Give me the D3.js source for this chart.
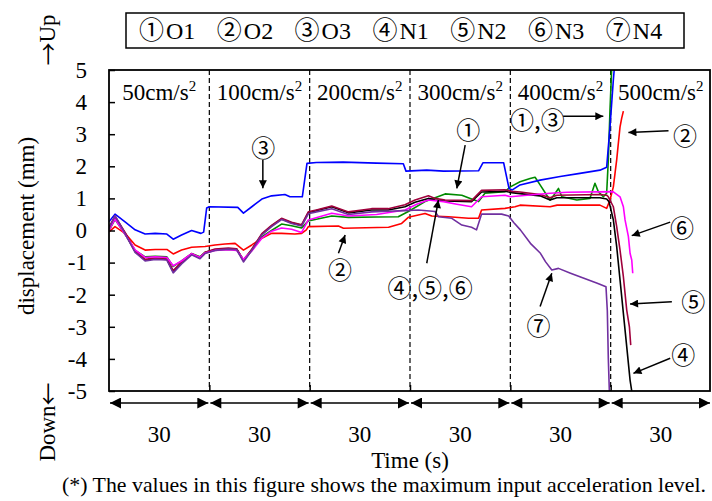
<!DOCTYPE html>
<html>
<head>
<meta charset="utf-8">
<script src="https://cdn.jsdelivr.net/npm/d3@7.9.0/dist/d3.min.js"></script>
<style>
  body { margin: 0; background: #fff; }
  svg text { font-family: "Liberation Serif", "Noto Sans CJK JP", serif; fill: #000; }
  svg .cjk { font-family: "Noto Sans CJK JP", sans-serif; }
</style>
</head>
<body>
<svg id="chart" width="712" height="501"></svg>
<script>
// stages (30 s each) and their max input acceleration
const stageLevels = ["50", "100", "200", "300", "400", "500"];
const stageDuration = [30, 30, 30, 30, 30, 30];
const yTicks = [-5, -4, -3, -2, -1, 0, 1, 2, 3, 4, 5];

const seriesNames = ["O1", "O2", "O3", "N1", "N2", "N3", "N4"];
const seriesMarks = ["①", "②", "③", "④", "⑤", "⑥", "⑦"];
const seriesColors = ["#008a00", "#ff0000", "#0000ff", "#000000", "#a0003c", "#ff00ff", "#7030a0"];

// [time (s), displacement (mm)]
const o1 = [[0,0.0],[1.8,0.35],[4.8,-0.12],[7.8,-0.62],[10.8,-0.82],[13.8,-0.8],[17.3,-0.82],[19.2,-1.12],[21.7,-0.95],[24.7,-0.72],[27.2,-0.82],[28.7,-0.68],[31.7,-0.6],[35.7,-0.58],[38.2,-0.6],[40.2,-0.92],[42.7,-0.62],[45.7,-0.2],[48.6,0.0],[51.6,0.2],[54.6,0.15],[57.6,0.08],[59.6,0.3],[62,0.35],[66.6,0.45],[71.6,0.41],[80,0.42],[86.5,0.43],[89.5,0.59],[94.5,0.9],[100.5,1.14],[105.5,1.1],[108,1.0],[110.5,0.9],[112.4,1.16],[118.4,1.21],[120,1.36],[122.9,1.52],[125.9,1.62],[127.4,1.66],[128.9,1.42],[130.9,1.1],[131.9,0.95],[133,1.1],[134.4,1.31],[135.4,1.05],[139.9,0.95],[143.8,1.0],[145.3,1.47],[146.3,1.21],[147.8,1.05],[148.8,1.16],[149.3,2.2],[149.8,3.75],[150.4,5.3]];
const o2 = [[0,-0.04],[1.8,0.12],[4.8,-0.09],[7.8,-0.45],[10.8,-0.61],[13.8,-0.59],[17.3,-0.59],[19.2,-0.73],[21.7,-0.61],[24.7,-0.52],[28.7,-0.5],[31.7,-0.45],[34.7,-0.42],[37.7,-0.4],[40.2,-0.61],[42.7,-0.45],[45.7,-0.24],[48.6,-0.09],[51.6,-0.09],[55.6,-0.11],[57.6,-0.09],[59,0.02],[59.6,0.12],[68.6,0.14],[70.1,0.07],[83.6,0.1],[87.5,0.22],[89.5,0.41],[94.5,0.53],[96.5,0.45],[101.5,0.43],[107.5,0.38],[110.5,0.38],[111.4,0.64],[118.4,0.69],[121.4,0.74],[122.9,0.79],[131.9,0.74],[134,0.79],[146.8,0.79],[148.8,0.69],[149.8,0.95],[150.8,1.36],[151.3,1.78],[151.8,2.2],[152.3,2.72],[152.8,3.23],[153.3,3.5],[153.8,3.72]];
const o3 = [[0,0.27],[1.8,0.51],[4.8,0.27],[7.8,0.02],[10.8,-0.11],[13.8,-0.09],[17.3,-0.11],[19.2,-0.27],[21.7,-0.14],[24.7,0.0],[27.5,-0.09],[28.3,-0.05],[29.2,0.7],[30,0.74],[38.5,0.72],[40.2,0.54],[42.7,0.74],[45.7,0.98],[48.6,1.08],[52.6,1.12],[54.1,1.05],[57.8,1.05],[59.2,2.09],[62,2.12],[70,2.13],[80,2.1],[88,2.08],[88.8,1.85],[95,1.88],[100,1.85],[110.5,1.86],[111.8,2.11],[118,2.11],[119.6,1.31],[120.5,1.26],[122.9,1.42],[128.9,1.57],[134.9,1.68],[140.8,1.78],[146.8,1.88],[148.8,1.97],[149.8,3.23],[150.8,4.69],[151.3,5.3]];
const n1 = [[0,0.08],[1.8,0.42],[4.8,-0.08],[7.8,-0.66],[10.8,-0.92],[13.8,-0.88],[17.3,-0.9],[19.2,-1.28],[21.7,-1.0],[24.7,-0.74],[27.2,-0.86],[28.7,-0.7],[31.7,-0.6],[35.7,-0.57],[38.2,-0.58],[40.2,-0.94],[42.7,-0.6],[45.7,-0.12],[48.6,0.14],[51.6,0.36],[54.6,0.24],[57.6,0.16],[59.6,0.56],[62,0.62],[66.6,0.74],[71.6,0.55],[78.5,0.64],[83.5,0.64],[88.5,0.74],[91.5,0.88],[95.5,1.0],[97.5,0.95],[100.5,0.92],[108.4,0.9],[111.4,1.2],[118.4,1.22],[120.4,1.18],[122.9,1.15],[128.9,1.08],[131.9,0.95],[133.9,1.02],[146.8,1.02],[148.8,0.98],[149.5,0.9],[150.8,0.33],[151.8,-0.5],[152.8,-1.54],[153.8,-2.58],[154.8,-3.62],[155.8,-4.66],[156.3,-5.0]];
const n2 = [[0,0.1],[1.8,0.45],[4.8,-0.06],[7.8,-0.64],[10.8,-0.9],[13.8,-0.86],[17.3,-0.88],[19.2,-1.25],[21.7,-0.98],[24.7,-0.72],[27.2,-0.84],[28.7,-0.68],[31.7,-0.58],[35.7,-0.55],[38.2,-0.57],[40.2,-0.92],[42.7,-0.58],[45.7,-0.1],[48.6,0.16],[51.6,0.38],[54.6,0.26],[57.6,0.18],[59.6,0.58],[62,0.64],[66.6,0.76],[71.6,0.58],[78.5,0.68],[83.5,0.68],[88.5,0.8],[91.5,0.95],[95.5,1.08],[97.5,1.0],[100.5,0.95],[108.4,0.93],[111.4,1.25],[118.4,1.27],[120.4,1.22],[122.9,1.2],[128.9,1.12],[131.9,1.02],[133.9,1.1],[146.8,1.12],[148.8,1.1],[149.3,1.05],[150.8,0.74],[151.8,0.12],[152.8,-0.61],[153.8,-1.44],[154.8,-2.48],[155.6,-3.0],[156.0,-3.57]];
const n3 = [[0,0.0],[1.8,0.36],[4.8,-0.12],[7.8,-0.6],[10.8,-0.84],[13.8,-0.82],[17.3,-0.84],[19.2,-1.1],[21.7,-0.95],[24.7,-0.72],[27.2,-0.84],[28.7,-0.7],[31.7,-0.62],[35.7,-0.6],[38.2,-0.62],[40.2,-0.9],[42.7,-0.64],[45.7,-0.24],[48.6,-0.02],[51.6,0.08],[54.6,0.04],[57.6,-0.06],[59.6,0.33],[66.6,0.54],[71.6,0.45],[80,0.5],[88.5,0.64],[92,0.82],[95.5,0.95],[100,0.9],[104,0.82],[108.4,0.74],[111.4,1.05],[118.4,1.1],[120,1.05],[125,1.1],[131.9,1.16],[137,1.19],[150.7,1.21],[152.8,1.05],[153.8,0.74],[154.3,0.33],[155.3,-0.19],[155.8,-0.71],[156.3,-0.92],[156.6,-1.33]];
const n4 = [[0,0.06],[1.8,0.46],[4.8,-0.1],[7.8,-0.68],[10.8,-0.95],[13.8,-0.9],[17.3,-0.92],[19.2,-1.32],[21.7,-1.04],[24.7,-0.76],[27.2,-0.88],[28.7,-0.72],[31.7,-0.62],[35.7,-0.58],[38.2,-0.6],[40.2,-0.98],[42.7,-0.62],[45.7,-0.14],[48.6,0.12],[51.6,0.34],[54.6,0.22],[57.6,0.14],[59.6,0.52],[62,0.58],[66.6,0.68],[71.6,0.5],[78.5,0.58],[83.5,0.6],[88.5,0.62],[92.5,0.64],[97.5,0.59],[98.5,0.43],[102.5,0.38],[105.5,0.17],[108.4,0.1],[109.9,0.02],[111.4,0.51],[117.4,0.51],[119.5,0.45],[121,0.25],[123,0.02],[126,-0.4],[129,-0.71],[130.5,-0.97],[132.4,-1.23],[134.4,-1.18],[138,-1.33],[142,-1.49],[146,-1.64],[148.6,-1.75],[149,-2.5],[149.3,-4.0],[149.7,-5.3]];

// callouts: label text, label position, arrow tail, arrow head (data units)
const callouts = [
  { text: "③", at: [46.1, 2.61], from: [46.0, 2.2], to: [46.0, 1.32] },
  { text: "②", at: [69.1, -1.17], from: [68.6, -0.71], to: [70.6, -0.14] },
  { text: "①", at: [107.4, 3.18], from: [106.5, 2.66], to: [104.0, 1.31] },
  { text: "④,⑤,⑥", at: [96.0, -1.76], from: [95.0, -1.02], to: [98.5, 0.95] },
  { text: "①,③", at: [128.1, 3.48], from: [135.8, 3.56], to: [147.8, 3.56] },
  { text: "②", at: [172.2, 2.98], from: [167.3, 3.11], to: [155.3, 3.05] },
  { text: "⑥", at: [171.3, 0.12], from: [167.8, 0.26], to: [156.3, -0.16] },
  { text: "⑤", at: [174.7, -2.19], from: [168.3, -2.22], to: [155.8, -2.29] },
  { text: "④", at: [171.7, -3.83], from: [167.8, -3.98], to: [156.8, -4.45] },
  { text: "⑦", at: [128.4, -2.94], from: [128.9, -2.37], to: [132.4, -1.33] }
];

const series = [o1, o2, o3, n1, n2, n3, n4];

const svg = d3.select("#chart");
const plotL = 109, plotR = 711, plotT = 70, plotB = 391;

const stageEnds = d3.cumsum(stageDuration);
const stageStarts = [0, ...stageEnds.slice(0, -1)];
const x = d3.scaleLinear().domain([0, d3.sum(stageDuration)]).range([plotL, plotR]);
const y = d3.scaleLinear().domain([-5, 5]).range([plotB, plotT]);

const defs = svg.append("defs");
defs.append("clipPath").attr("id", "plotClip")
  .append("rect").attr("x", plotL).attr("y", plotT).attr("width", plotR - plotL).attr("height", plotB - plotT);
defs.append("marker").attr("id", "head").attr("viewBox", "0 0 10 10")
  .attr("refX", 10).attr("refY", 5).attr("markerWidth", 11).attr("markerHeight", 8)
  .attr("markerUnits", "userSpaceOnUse").attr("orient", "auto")
  .append("path").attr("d", "M0,0L10,5L0,10Z").attr("fill", "#000");
defs.append("marker").attr("id", "tri").attr("viewBox", "0 0 10 10")
  .attr("refX", 10).attr("refY", 5).attr("markerWidth", 12).attr("markerHeight", 11)
  .attr("markerUnits", "userSpaceOnUse").attr("orient", "auto-start-reverse")
  .append("path").attr("d", "M0,0L10,5L0,10Z").attr("fill", "#000");

// stage dividers
svg.append("g").selectAll("line")
  .data(stageEnds.slice(0, -1))
  .join("line")
  .attr("x1", d => x(d)).attr("x2", d => x(d))
  .attr("y1", plotT).attr("y2", plotB)
  .attr("stroke", "#000").attr("stroke-width", 1.2)
  .attr("stroke-dasharray", "5,3");

// stage labels
const stageLbl = svg.append("g").selectAll("text")
  .data(stageLevels)
  .join("text")
  .attr("x", (d, i) => x(stageStarts[i] + stageDuration[i] / 2))
  .attr("y", 100)
  .attr("text-anchor", "middle")
  .attr("font-size", 23);
stageLbl.append("tspan").text(d => d + "cm/s");
stageLbl.append("tspan").attr("dy", -9).attr("font-size", 15).text("2");

// lines
const line = d3.line().x(d => x(d[0])).y(d => y(d[1]));
svg.append("g").attr("clip-path", "url(#plotClip)")
  .selectAll("path")
  .data(series)
  .join("path")
  .attr("d", line)
  .attr("fill", "none")
  .attr("stroke", (d, i) => seriesColors[i])
  .attr("stroke-width", 1.6)
  .attr("stroke-linejoin", "round");

// axes
const yAxis = svg.append("g").attr("transform", `translate(${plotL},0)`)
  .call(d3.axisLeft(y).tickValues(yTicks).tickSize(-6).tickPadding(22).tickFormat(d => String(d)));
yAxis.select(".domain").remove();
yAxis.selectAll("line").attr("stroke-width", 1.5);
yAxis.selectAll("text").attr("font-size", 23);

const xAxis = svg.append("g").attr("transform", `translate(0,${plotB})`)
  .call(d3.axisBottom(x).tickValues(stageEnds.slice(0, -1)).tickSize(-6).tickFormat(""));
xAxis.select(".domain").remove();
xAxis.selectAll("line").attr("stroke-width", 1.5);

// frame
svg.append("rect").attr("x", plotL).attr("y", plotT).attr("width", plotR - plotL - 1).attr("height", plotB - plotT)
  .attr("fill", "none").attr("stroke", "#000").attr("stroke-width", 1.8);

// duration arrows
svg.append("g").selectAll("line")
  .data(stageDuration)
  .join("line")
  .attr("x1", (d, i) => x(stageStarts[i]) + 1).attr("x2", (d, i) => x(stageEnds[i]) - 1)
  .attr("y1", 403).attr("y2", 403)
  .attr("stroke", "#000").attr("stroke-width", 1.5)
  .attr("marker-start", "url(#tri)").attr("marker-end", "url(#tri)");
svg.append("g").selectAll("text")
  .data(stageDuration)
  .join("text")
  .attr("x", (d, i) => x(stageStarts[i] + d / 2))
  .attr("y", 442)
  .attr("text-anchor", "middle")
  .attr("font-size", 23)
  .text(d => d);

// axis titles
svg.append("text").attr("x", x(90)).attr("y", 468).attr("text-anchor", "middle")
  .attr("font-size", 23).text("Time (s)");
svg.append("text").attr("transform", "translate(26,226) rotate(-90)").attr("text-anchor", "middle")
  .attr("dominant-baseline", "central").attr("font-size", 23).text("displacement (mm)");
const upLbl = svg.append("text").attr("transform", "translate(47,40) rotate(-90)").attr("text-anchor", "middle")
  .attr("dominant-baseline", "central").attr("font-size", 23);
upLbl.append("tspan").attr("class", "cjk").text("→");
upLbl.append("tspan").text("Up");
const downLbl = svg.append("text").attr("transform", "translate(47,422) rotate(-90)").attr("text-anchor", "middle")
  .attr("dominant-baseline", "central").attr("font-size", 23);
downLbl.append("tspan").text("Down");
downLbl.append("tspan").attr("class", "cjk").text("←");

// footnote
svg.append("text").attr("x", 62).attr("y", 492)
  .attr("font-size", 21).attr("textLength", 644).attr("lengthAdjust", "spacingAndGlyphs")
  .text("(*) The values in this figure shows the maximum input acceleration level.");

// legend
const legend = svg.append("g");
legend.append("rect").attr("x", 126).attr("y", 13).attr("width", 558).attr("height", 35)
  .attr("fill", "#fff").attr("stroke", "#000").attr("stroke-width", 1.5);
const legItems = legend.selectAll("text")
  .data(seriesNames)
  .join("text")
  .attr("x", (d, i) => 139 + i * 77.8)
  .attr("y", 39)
  .attr("font-size", 24);
legItems.append("tspan").attr("class", "cjk").attr("font-size", 25).text((d, i) => seriesMarks[i]);
legItems.append("tspan").attr("dx", 2).text(d => d);

// callouts
const co = svg.append("g");
co.selectAll("line")
  .data(callouts)
  .join("line")
  .attr("x1", d => x(d.from[0])).attr("y1", d => y(d.from[1]))
  .attr("x2", d => x(d.to[0])).attr("y2", d => y(d.to[1]))
  .attr("stroke", "#000").attr("stroke-width", 1.5)
  .attr("marker-end", "url(#head)");
co.selectAll("text")
  .data(callouts)
  .join("text")
  .attr("class", "cjk")
  .attr("x", d => x(d.at[0])).attr("y", d => y(d.at[1]))
  .attr("text-anchor", "middle")
  .attr("dominant-baseline", "central")
  .attr("font-size", 24)
  .text(d => d.text);
</script>
</body>
</html>
